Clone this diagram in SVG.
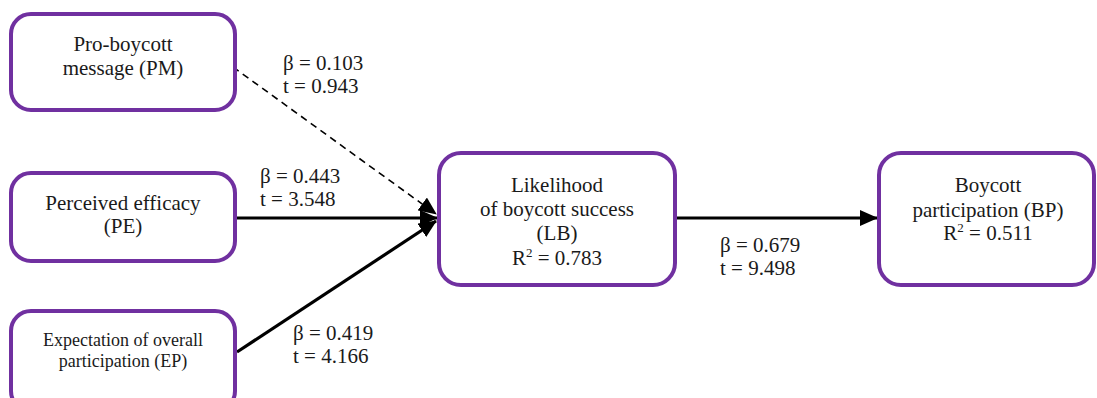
<svg xmlns="http://www.w3.org/2000/svg" width="1097" height="398" viewBox="0 0 1097 398">
  <style>
    .box { fill: #ffffff; stroke: #7030A0; stroke-width: 4; }
    text { font-family: "Liberation Serif", "Times New Roman", serif; font-size: 21px; fill: #1a1a1a; }
    .tc { text-anchor: middle; }
    .sm { font-size: 18px; }
    .edge { stroke: #000000; stroke-width: 3.2; fill: none; }
    .dash { stroke: #000000; stroke-width: 1.6; stroke-dasharray: 7 5; fill: none; }
  </style>
  <defs>
    <marker id="head" markerUnits="userSpaceOnUse" markerWidth="18" markerHeight="16" refX="17" refY="8" orient="auto">
      <path d="M0,0 L18,8 L0,16 Z" fill="#000000"/>
    </marker>
  </defs>

  <!-- connectors -->
  <g id="connectors">
    <line class="dash" x1="233" y1="67" x2="436" y2="214" marker-end="url(#head)"/>
    <line class="edge" x1="237" y1="218" x2="437" y2="218" marker-end="url(#head)"/>
    <line class="edge" x1="237" y1="352" x2="436" y2="221" marker-end="url(#head)"/>
    <line class="edge" x1="677" y1="218" x2="877" y2="218" marker-end="url(#head)"/>
  </g>

  <!-- path coefficients -->
  <g id="labels">
    <text x="283" y="70">β = 0.103</text>
    <text x="283" y="93">t = 0.943</text>
    <text x="260" y="183">β = 0.443</text>
    <text x="260" y="206">t = 3.548</text>
    <text x="293" y="340">β = 0.419</text>
    <text x="293" y="363">t = 4.166</text>
    <text x="720" y="252">β = 0.679</text>
    <text x="720" y="275">t = 9.498</text>
  </g>

  <g id="node-pm">
    <rect class="box" x="11" y="14" width="224" height="96" rx="20"/>
    <text class="tc" x="123" y="51">Pro-boycott</text>
    <text class="tc" x="123" y="75">message (PM)</text>
  </g>

  <g id="node-pe">
    <rect class="box" x="11" y="173" width="224" height="88" rx="20"/>
    <text class="tc" x="123" y="210">Perceived efficacy</text>
    <text class="tc" x="123" y="233">(PE)</text>
  </g>

  <g id="node-ep">
    <rect class="box" x="11" y="311" width="224" height="100" rx="20"/>
    <text class="tc sm" x="123" y="346">Expectation of overall</text>
    <text class="tc sm" x="123" y="367">participation (EP)</text>
  </g>

  <g id="node-lb">
    <rect class="box" x="439" y="153" width="236" height="132" rx="22"/>
    <text class="tc" x="557" y="192">Likelihood</text>
    <text class="tc" x="557" y="216">of boycott success</text>
    <text class="tc" x="557" y="240">(LB)</text>
    <text class="tc" x="557" y="265">R<tspan font-size="13" dy="-8">2</tspan><tspan dy="8"> = 0.783</tspan></text>
  </g>

  <g id="node-bp">
    <rect class="box" x="879" y="153" width="215" height="132" rx="22"/>
    <text class="tc" x="988" y="192">Boycott</text>
    <text class="tc" x="988" y="217">participation (BP)</text>
    <text class="tc" x="988" y="240">R<tspan font-size="13" dy="-8">2</tspan><tspan dy="8"> = 0.511</tspan></text>
  </g>
</svg>
